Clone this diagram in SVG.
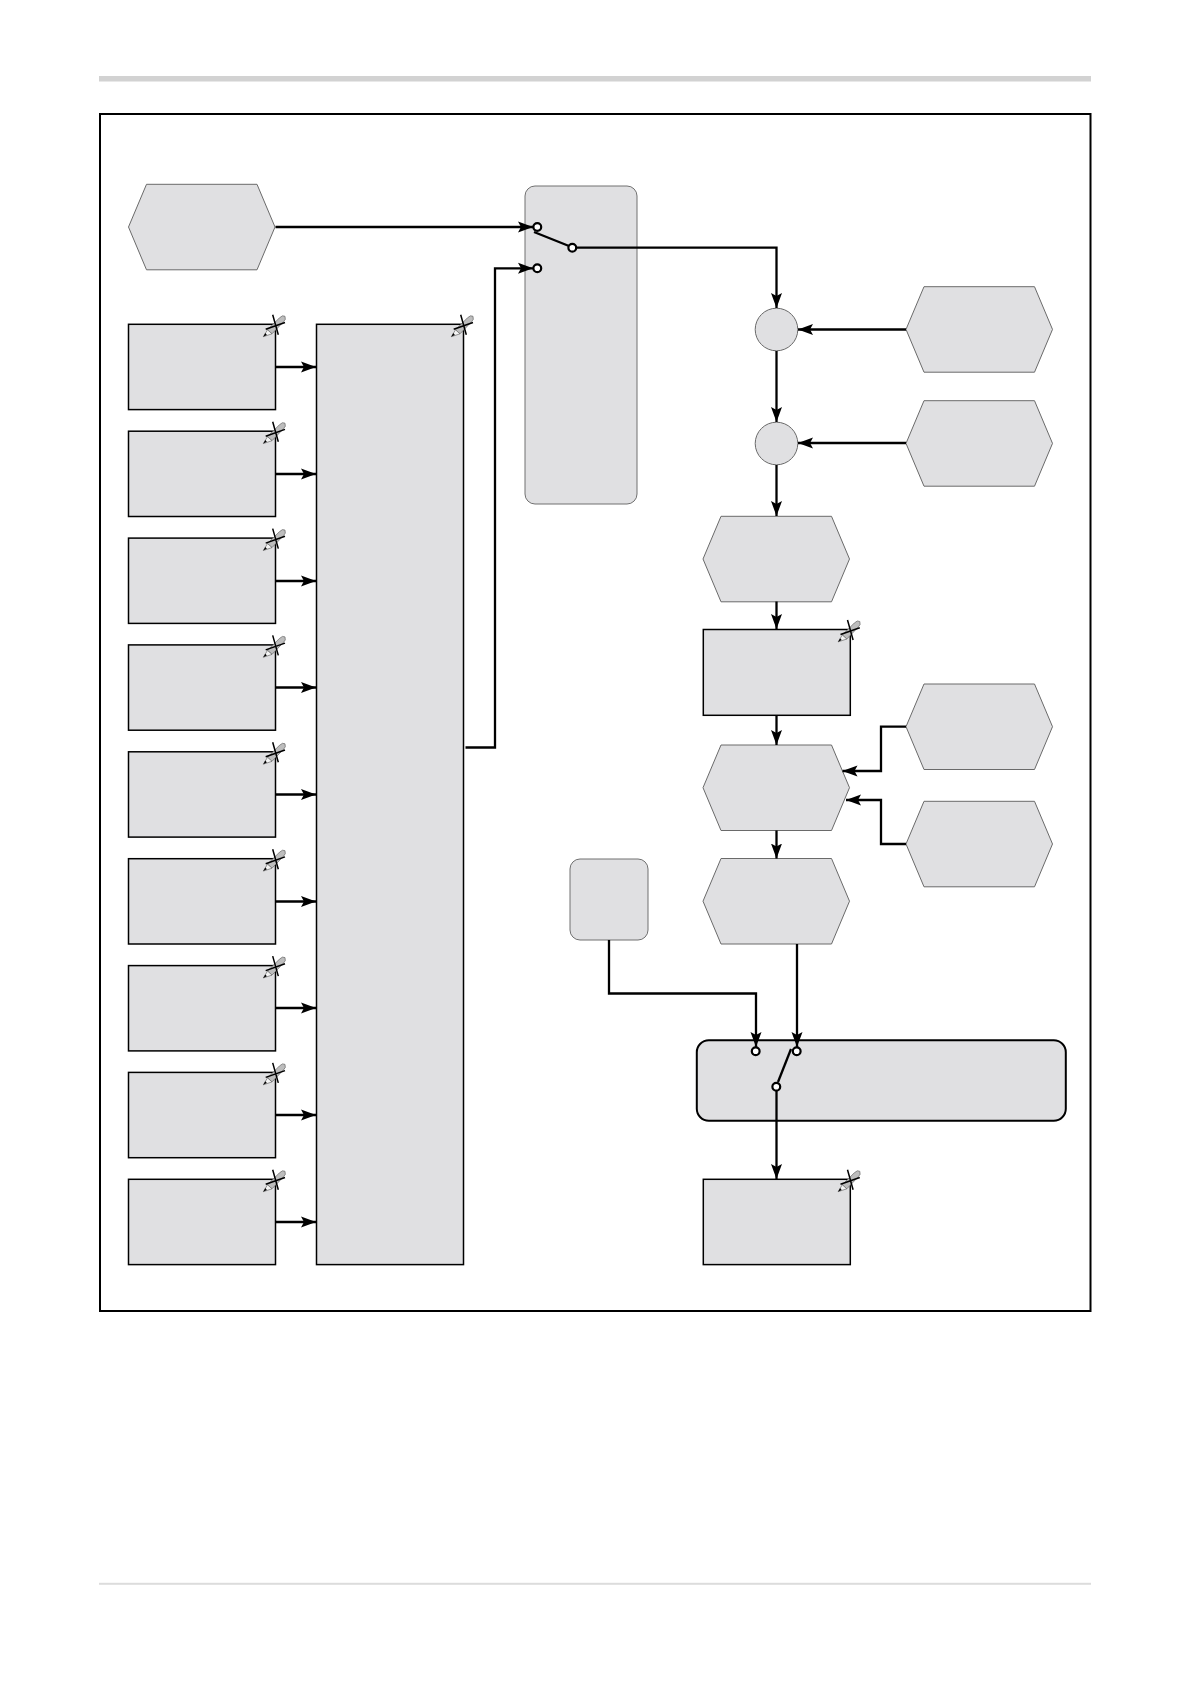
<svg xmlns="http://www.w3.org/2000/svg" xmlns:xlink="http://www.w3.org/1999/xlink" width="1191" height="1684" viewBox="0 0 1191 1684">
<style>
.box{fill:#e0e0e2;stroke:#000;stroke-width:1.5}
.hex{fill:#e0e0e2;stroke:#6a6a6a;stroke-width:1}
.group{fill:#e0e0e2;stroke:#707070;stroke-width:1}
.conn{fill:none;stroke:#000;stroke-width:2.3}
.arrow{marker-end:url(#ah)}
.term{fill:#fff;stroke:#000;stroke-width:2.2}
</style>
<defs>
<marker id="ah" markerUnits="userSpaceOnUse" markerWidth="15" markerHeight="12" refX="15" refY="6" orient="auto"><path d="M0 0.5L15 6L0 11.5L3 6Z" fill="#000"/></marker>
<polygon id="hx" points="0,42.7 18,0 128.5,0 146.5,42.7 128.5,85.5 18,85.5"/>
<g id="pen">
<path d="M-8,5.5L4,-6.5L7,-8.5L9.5,-8L9.8,-5L8,-2.5L-3.5,9.5Z" fill="#bdbdbd" stroke="#666" stroke-width=".7"/>
<path d="M-12.2,12.4L-8,5.5L-3.5,9.5Z" fill="#f4f4f4" stroke="#555" stroke-width=".6"/>
<path d="M-12.2,12.4L-10.2,8.8L-8.6,10.6Z" fill="#000"/>
<path d="M-2.8,-9.5L2.8,10.5M-9.8,5L9.5,-1.8" fill="none" stroke="#000" stroke-width="1.5"/>
</g>
</defs>
<rect id="header-bar" x="99" y="76" width="992" height="5.5" fill="#d2d2d2"/>
<rect id="footer-line" x="99" y="1582.8" width="992" height="2" fill="#dcdcdc"/>
<rect id="frame" x="100" y="114" width="990.5" height="1197" fill="none" stroke="#000" stroke-width="2"/>

<g id="n-src"><use xlink:href="#hx" class="hex" x="128.5" y="184.3"/></g>
<g id="n-in1"><rect class="box" x="128.5" y="324.3" width="147" height="85.3"/><use xlink:href="#pen" x="275.5" y="324.3"/></g>
<g id="n-in2"><rect class="box" x="128.5" y="431.2" width="147" height="85.3"/><use xlink:href="#pen" x="275.5" y="431.2"/></g>
<g id="n-in3"><rect class="box" x="128.5" y="538.1" width="147" height="85.3"/><use xlink:href="#pen" x="275.5" y="538.1"/></g>
<g id="n-in4"><rect class="box" x="128.5" y="644.9" width="147" height="85.3"/><use xlink:href="#pen" x="275.5" y="644.9"/></g>
<g id="n-in5"><rect class="box" x="128.5" y="751.8" width="147" height="85.3"/><use xlink:href="#pen" x="275.5" y="751.8"/></g>
<g id="n-in6"><rect class="box" x="128.5" y="858.7" width="147" height="85.3"/><use xlink:href="#pen" x="275.5" y="858.7"/></g>
<g id="n-in7"><rect class="box" x="128.5" y="965.6" width="147" height="85.3"/><use xlink:href="#pen" x="275.5" y="965.6"/></g>
<g id="n-in8"><rect class="box" x="128.5" y="1072.4" width="147" height="85.3"/><use xlink:href="#pen" x="275.5" y="1072.4"/></g>
<g id="n-in9"><rect class="box" x="128.5" y="1179.3" width="147" height="85.3"/><use xlink:href="#pen" x="275.5" y="1179.3"/></g>
<g id="n-big"><rect class="box" x="316.5" y="324.3" width="147" height="940.3"/><use xlink:href="#pen" x="463.5" y="324.3"/></g>
<g id="n-sw1"><rect class="group" x="525" y="186" width="112" height="318" rx="10"/></g>
<g id="n-c1"><circle class="hex" cx="776.5" cy="329.5" r="21.3"/></g>
<g id="n-c2"><circle class="hex" cx="776.5" cy="443.5" r="21.3"/></g>
<g id="n-r1"><use xlink:href="#hx" class="hex" x="906" y="286.7"/></g>
<g id="n-r2"><use xlink:href="#hx" class="hex" x="906" y="400.7"/></g>
<g id="n-m1"><use xlink:href="#hx" class="hex" x="703" y="516.3"/></g>
<g id="n-m2"><rect class="box" x="703.3" y="629.5" width="147" height="85.8"/><use xlink:href="#pen" x="850.3" y="629.5"/></g>
<g id="n-m3"><use xlink:href="#hx" class="hex" x="703" y="745"/></g>
<g id="n-r3"><use xlink:href="#hx" class="hex" x="906" y="684"/></g>
<g id="n-r4"><use xlink:href="#hx" class="hex" x="906" y="801.3"/></g>
<g id="n-m4"><use xlink:href="#hx" class="hex" x="703" y="858.5"/></g>
<g id="n-small"><rect class="group" x="570" y="859" width="78" height="81" rx="10"/></g>
<g id="n-sw2"><rect x="696.8" y="1040.3" width="369" height="80.5" rx="12" fill="#e0e0e2" stroke="#000" stroke-width="2"/></g>
<g id="n-out"><rect class="box" x="703.3" y="1179.3" width="147" height="85.3"/><use xlink:href="#pen" x="850.3" y="1179.3"/></g>

<g id="connectors">
<path class="conn arrow" d="M275.5 227H533"/>
<path class="conn arrow" d="M275.5 367H316"/>
<path class="conn arrow" d="M275.5 474H316"/>
<path class="conn arrow" d="M275.5 581H316"/>
<path class="conn arrow" d="M275.5 687.5H316"/>
<path class="conn arrow" d="M275.5 794.5H316"/>
<path class="conn arrow" d="M275.5 901.5H316"/>
<path class="conn arrow" d="M275.5 1008H316"/>
<path class="conn arrow" d="M275.5 1115H316"/>
<path class="conn arrow" d="M275.5 1222H316"/>
<path class="conn arrow" d="M465.5 747.5H495V268.3H533"/>
<path class="conn arrow" d="M576 247.7H776.5V308"/>
<path class="conn arrow" d="M776.5 351V422"/>
<path class="conn arrow" d="M776.5 465V516"/>
<path class="conn arrow" d="M776.5 601.5V629"/>
<path class="conn arrow" d="M776.5 715.5V745"/>
<path class="conn arrow" d="M776.5 830.5V858.5"/>
<path class="conn arrow" d="M906 329.5H798"/>
<path class="conn arrow" d="M906 443H798"/>
<path class="conn arrow" d="M906 726.7H881V771H842.5"/>
<path class="conn arrow" d="M906 844H881V800H846"/>
<path class="conn arrow" d="M609 940V993.5H756V1047"/>
<path class="conn arrow" d="M797 944V1047"/>
<path class="conn arrow" d="M776.5 1091V1179"/>
<path class="conn" d="M534 232L569 246"/>
<path class="conn" d="M791 1049L778 1082"/>
<circle class="term" cx="537.3" cy="227" r="3.9"/>
<circle class="term" cx="537.3" cy="268.3" r="3.9"/>
<circle class="term" cx="572.3" cy="247.7" r="3.9"/>
<circle class="term" cx="755.7" cy="1051.3" r="3.9"/>
<circle class="term" cx="796.7" cy="1051.3" r="3.9"/>
<circle class="term" cx="776.3" cy="1086.7" r="3.9"/>
</g>
</svg>
